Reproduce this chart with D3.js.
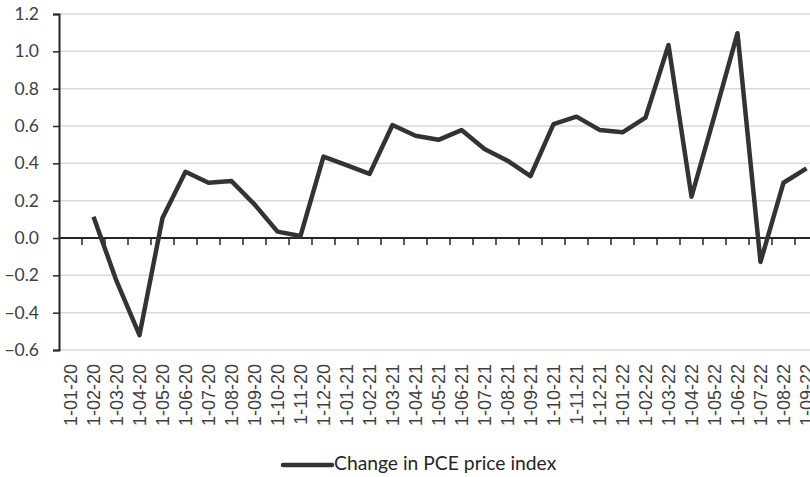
<!DOCTYPE html>
<html><head><meta charset="utf-8">
<script src="https://cdn.jsdelivr.net/npm/d3@7"></script>
<style>body{margin:0;background:#fff}svg{display:block}</style>
</head><body>
<svg id="c" width="810" height="477"></svg>
<script>
const categories = ["1-01-20","1-02-20","1-03-20","1-04-20","1-05-20","1-06-20","1-07-20","1-08-20","1-09-20","1-10-20","1-11-20","1-12-20",
"1-01-21","1-02-21","1-03-21","1-04-21","1-05-21","1-06-21","1-07-21","1-08-21","1-09-21","1-10-21","1-11-21","1-12-21",
"1-01-22","1-02-22","1-03-22","1-04-22","1-05-22","1-06-22","1-07-22","1-08-22","1-09-22"];
const pceChange = [null,0.114,-0.23,-0.52,0.107,0.355,0.296,0.305,0.18,0.034,0.011,0.436,
0.39,0.343,0.605,0.548,0.526,0.578,0.477,0.414,0.332,0.61,0.65,0.579,
0.566,0.645,1.034,0.221,0.655,1.097,-0.128,0.296,0.373];
const yTicks = [-0.6,-0.4,-0.2,0.0,0.2,0.4,0.6,0.8,1.0,1.2];
const seriesName = "Change in PCE price index";

(function(){
const svg = d3.select("#c");
const mLeft = 59, mRight = 59 + 33*23, mTop = 14, mBottom = 350;
const x = d3.scaleBand().domain(categories).range([mLeft, mRight]);
const y = d3.scaleLinear().domain([-0.6, 1.2]).range([mBottom, mTop]);

// gridlines
svg.append("g").selectAll("line").data(yTicks).join("line")
  .attr("x1", mLeft).attr("x2", 810)
  .attr("y1", d => y(d)).attr("y2", d => y(d))
  .attr("stroke", "#d9d9d9").attr("stroke-width", 1.5);

// y axis
const yAxis = svg.append("g").attr("transform", `translate(${mLeft},0)`)
  .call(d3.axisLeft(y).tickValues(yTicks).tickFormat(d3.format(".1f")).tickSize(6).tickPadding(14));
yAxis.select(".domain").attr("stroke", "#262626").attr("stroke-width", 2);
yAxis.selectAll(".tick line").attr("stroke", "#262626").attr("stroke-width", 1.5);
yAxis.selectAll(".tick text").attr("font-family", "Lato, 'Open Sans', sans-serif").attr("font-size", 17.5).attr("fill", "#404040");

// x axis at zero
const xAxisLine = svg.append("g");
xAxisLine.append("line").attr("x1", mLeft).attr("x2", 810).attr("y1", y(0)).attr("y2", y(0))
  .attr("stroke", "#262626").attr("stroke-width", 2);
xAxisLine.selectAll("line.tk").data(categories.slice(1)).join("line").attr("class","tk")
  .attr("x1", d => x(d)).attr("x2", d => x(d))
  .attr("y1", y(0)).attr("y2", y(0) + 7)
  .attr("stroke", "#262626").attr("stroke-width", 1.5);

// x labels
svg.append("g").selectAll("text").data(categories).join("text")
  .attr("transform", d => `translate(${x(d) + x.bandwidth()/2 + 6.5},364) rotate(-90)`)
  .attr("text-anchor", "end")
  .attr("font-family", "'Liberation Sans', Arial, sans-serif")
  .attr("font-size", 18).attr("fill", "#404040")
  .text(d => d);

// line
const line = d3.line()
  .defined(d => d.v !== null)
  .x(d => x(d.c) + x.bandwidth()/2)
  .y(d => y(d.v));
svg.append("path")
  .datum(categories.map((c,i) => ({c, v: pceChange[i]})))
  .attr("d", line).attr("fill", "none")
  .attr("stroke", "#333333").attr("stroke-width", 4.5).attr("stroke-linejoin", "round");

// legend
const lg = svg.append("g");
lg.append("line").attr("x1", 283).attr("x2", 332).attr("y1", 465).attr("y2", 465)
  .attr("stroke", "#333333").attr("stroke-width", 4.5).attr("stroke-linecap", "round");
lg.append("text").attr("x", 334).attr("y", 470)
  .attr("font-family", "Lato, 'Open Sans', sans-serif").attr("font-size", 19.3).attr("fill", "#262626")
  .text(seriesName);
})();
</script>
</body></html>
